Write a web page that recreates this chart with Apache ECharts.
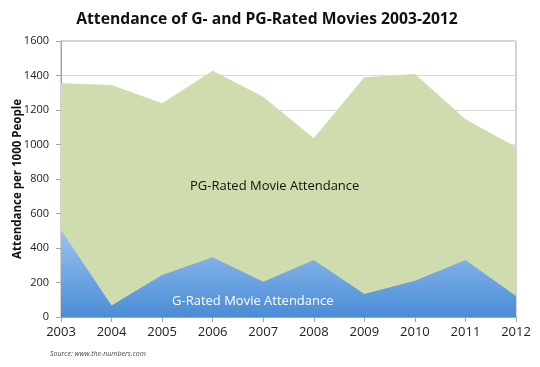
<!DOCTYPE html>
<html><head><meta charset="utf-8">
<script src="https://cdn.jsdelivr.net/npm/echarts@6/dist/echarts.min.js"></script>
<style>html,body{margin:0;padding:0;background:#fff}#c{width:540px;height:367px}</style>
</head><body><div id="c"></div>
<script>
const years = ['2003','2004','2005','2006','2007','2008','2009','2010','2011','2012'];
const pgTotal = [1355, 1345, 1239, 1428, 1277, 1036, 1390, 1409, 1146, 985];
const gRated = [504, 66, 243, 346, 205, 330, 133, 210, 330, 122];
const yTicks = [0, 200, 400, 600, 800, 1000, 1200, 1400, 1600];

const font = '"Open Sans", "Liberation Sans", sans-serif';
const chart = echarts.init(document.getElementById('c'), null, {renderer: 'canvas'});
chart.setOption({
  animation: false,
  backgroundColor: '#fff',
  title: {
    text: 'Attendance of G- and PG-Rated Movies 2003-2012',
    left: 262, top: 7, textAlign: 'center',
    textStyle: {fontFamily: font, fontSize: 15.7, fontWeight: 'bold', color: '#111'}
  },
  grid: {left: 61, right: 24, top: 41, bottom: 50, outerBoundsMode: 'none', containLabel: false,
    show: true, borderColor: '#a6a6a6', borderWidth: 1, backgroundColor: 'transparent'},
  xAxis: {
    type: 'category', data: years, boundaryGap: false,
    axisLine: {lineStyle: {color: '#a6a6a6'}},
    axisTick: {show: true, length: 5, inside: false, lineStyle: {color: '#a6a6a6'}},
    axisLabel: {fontFamily: font, fontSize: 13, color: '#222', margin: 9},
    splitLine: {show: false}
  },
  yAxis: {
    type: 'value', min: yTicks[0], max: yTicks[yTicks.length-1], interval: 200,
    name: 'Attendance per 1000 People', nameLocation: 'middle', nameGap: 37, nameMoveOverlap: false,
    nameTextStyle: {fontFamily: font, fontSize: 11.5, fontWeight: 'bold', color: '#111'},
    axisLine: {show: true, lineStyle: {color: '#a6a6a6'}},
    axisTick: {show: true, length: 5, lineStyle: {color: '#a6a6a6'}},
    axisLabel: {fontFamily: font, fontSize: 11, color: '#222', margin: 12, formatter: v => String(v)},
    splitLine: {lineStyle: {color: '#d9d9d9'}}
  },
  series: [
    {
      type: 'line', data: pgTotal, symbol: 'none', lineStyle: {width: 0},
      areaStyle: {color: '#cfddae', opacity: 1}, z: 2
    },
    {
      type: 'line', data: gRated, symbol: 'none', lineStyle: {width: 0},
      areaStyle: {opacity: 1, color: new echarts.graphic.LinearGradient(0, 0, 0, 1, [
        {offset: 0, color: '#9cc3f0'}, {offset: 1, color: '#4a8cd6'}
      ])}, z: 3
    }
  ],
  graphic: [
    {type: 'text', left: 190, top: 180, z: 10, style: {text: 'PG-Rated Movie Attendance', font: '13px ' + font, fill: '#111'}},
    {type: 'text', left: 172, top: 295, z: 10, style: {text: 'G-Rated Movie Attendance', font: '13px ' + font, fill: '#fff'}},
    {type: 'text', left: 50, top: 350, style: {text: 'Source: www.the-numbers.com', font: 'italic 7px ' + font, fill: '#444'}}
  ]
});
</script></body></html>
